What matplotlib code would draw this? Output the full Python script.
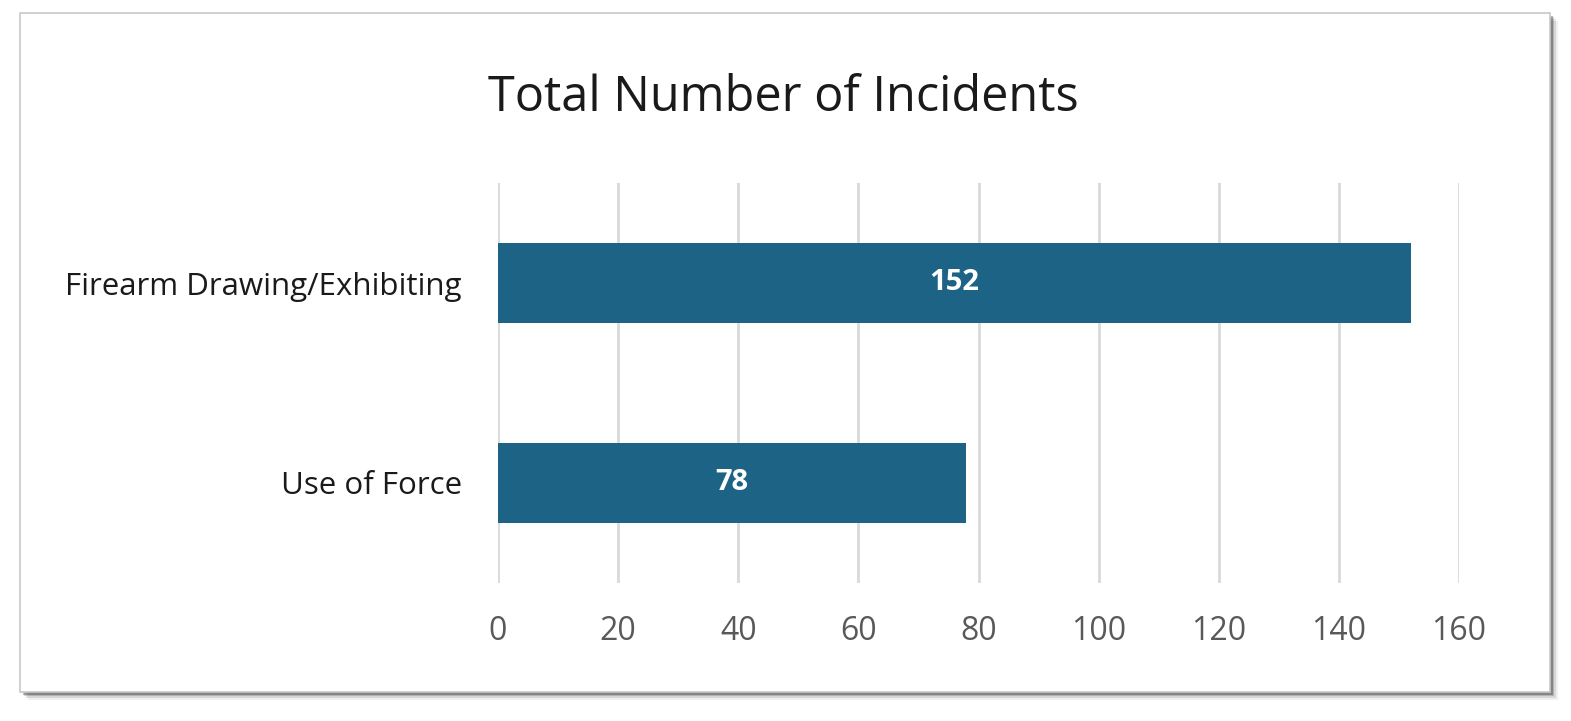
import matplotlib
matplotlib.use("Agg")
import matplotlib.pyplot as plt
import matplotlib.patches as mpatches

# data
categories = ["Use of Force", "Firearm Drawing/Exhibiting"]
counts = [78, 152]
xticks = [0, 20, 40, 60, 80, 100, 120, 140, 160]

bar_color = "#1c6385"
grid_color = "#d9d9d9"
W, H = 1571, 721

plt.rcParams['font.family'] = ['Open Sans', 'DejaVu Sans']

fig = plt.figure(figsize=(W / 100, H / 100), dpi=100)
fig.patch.set_facecolor("white")

# card frame with a soft shadow
for i, a in enumerate([0.06, 0.10, 0.16, 0.26]):
    off = 8 - i * 1.8
    fig.patches.append(mpatches.Rectangle(
        ((20 + off) / W, 1 - (692 + off) / H), 1530 / W, 679 / H,
        transform=fig.transFigure, facecolor="black", alpha=a,
        edgecolor="none", zorder=0))
fig.patches.append(mpatches.Rectangle(
    (20 / W, 1 - 692 / H), 1530 / W, 679 / H, transform=fig.transFigure,
    facecolor="white", edgecolor="#c8c8c8", linewidth=1.2, zorder=1))

ax = fig.add_axes([498 / W, 1 - 583 / H, (1459 - 498) / W, 400 / H])
ax.set_facecolor("none")
ax.set_zorder(2)

bars = ax.barh(range(len(categories)), counts, height=0.4, color=bar_color, zorder=3)
for b, v in zip(bars, counts):
    ax.text(b.get_width() / 2, b.get_y() + b.get_height() / 2, str(v),
            ha="center", va="center", color="white", fontsize=21,
            fontweight="bold", zorder=4)

ax.set_xlim(0, 160)
ax.set_ylim(-0.5, 1.5)
ax.set_xticks(xticks)
ax.set_yticks(range(len(categories)))
ax.set_yticklabels(categories)
ax.xaxis.grid(True, color=grid_color, linewidth=2, zorder=0)
ax.set_axisbelow(True)
for s in ax.spines.values():
    s.set_visible(False)
ax.tick_params(axis="x", length=0, pad=23, labelsize=23, labelcolor="#595959")
ax.tick_params(axis="y", length=0, pad=26, labelsize=22.5, labelcolor="#1a1a1a")

fig.text(783 / W, 1 - 98 / H, "Total Number of Incidents", ha="center",
         va="center", fontsize=35, color="#1a1a1a")

fig.savefig("out.png", dpi=100, facecolor="white")
